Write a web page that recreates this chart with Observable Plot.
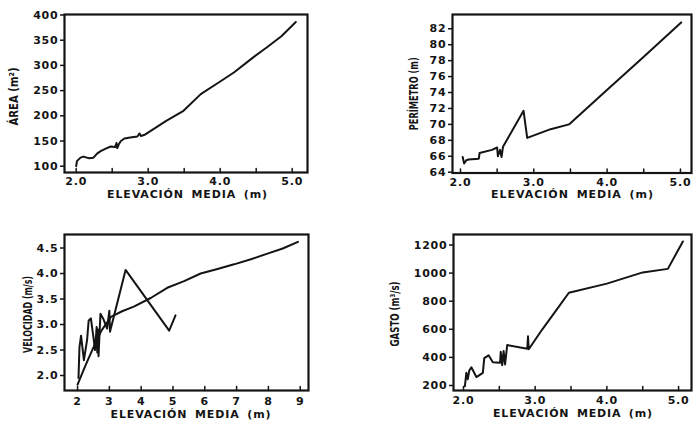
<!DOCTYPE html>
<html><head><meta charset="utf-8">
<script src="https://cdn.jsdelivr.net/npm/d3@7"></script>
<script src="https://cdn.jsdelivr.net/npm/@observablehq/plot@0.6"></script>
<style>
html,body{margin:0;padding:0;background:#fff;}
#wrap{position:relative;width:693px;height:421px;overflow:hidden;background:#fff;}
#wrap svg{position:absolute;}
</style></head><body><div id="wrap"></div>
<script>
// ---- data ----
const xLabel = "ELEVACIÓN MEDIA (m)";

const areaLabel = "ÁREA (m²)";
const areaX = [2.0, 2.01, 2.06, 2.1, 2.17, 2.24, 2.29, 2.34, 2.41, 2.48, 2.54, 2.56, 2.57, 2.59, 2.62, 2.67, 2.75, 2.85, 2.88, 2.9, 2.96, 3.25, 3.49, 3.73, 4.0, 4.19, 4.45, 4.65, 4.85, 5.05];
const areaY = [100, 110, 117, 119, 116, 117, 125, 130, 135, 139, 138, 146, 136, 143, 150, 155, 157, 159, 165, 160, 163, 190, 210, 243, 268, 286, 315, 336, 358, 386];
const areaTicks = [100, 150, 200, 250, 300, 350, 400];

const perLabel = "PERÍMETRO (m)";
const perX = [2.03, 2.05, 2.08, 2.11, 2.25, 2.26, 2.43, 2.50, 2.51, 2.54, 2.56, 2.58, 2.86, 2.91, 3.23, 3.48, 3.96, 4.5, 5.01];
const perY = [65.9, 65.1, 65.5, 65.6, 65.7, 66.4, 66.8, 67.1, 66.0, 66.8, 65.9, 67.2, 71.7, 68.3, 69.4, 70.0, 74.0, 78.5, 82.8];
const perTicks = [64, 66, 68, 70, 72, 74, 76, 78, 80, 82];

const velLabel = "VELOCIDAD (m/s)";
const velX1 = [2.0, 2.25, 2.5, 2.75, 3.05, 3.4, 3.77, 4.3, 4.82, 5.35, 5.87, 6.4, 6.92, 7.45, 7.97, 8.45, 8.93];
const velY1 = [1.82, 2.2, 2.55, 2.88, 3.15, 3.26, 3.35, 3.52, 3.72, 3.85, 4.0, 4.09, 4.18, 4.28, 4.39, 4.49, 4.62];
const velX2 = [2.03, 2.06, 2.11, 2.2, 2.3, 2.35, 2.42, 2.5, 2.55, 2.6, 2.62, 2.64, 2.66, 2.72, 2.81, 2.93, 3.0, 3.02, 3.51, 4.88, 5.08];
const velY2 = [1.95, 2.55, 2.78, 2.3, 2.7, 3.08, 3.12, 2.75, 2.5, 2.95, 2.45, 2.9, 2.38, 3.21, 3.11, 2.92, 3.27, 2.86, 4.07, 2.88, 3.18];
const velTicks = [2.0, 2.5, 3.0, 3.5, 4.0, 4.5];
const velXTicks = [2, 3, 4, 5, 6, 7, 8, 9];

const gastoLabel = "GASTO (m³/s)";
const gastoX = [2.02, 2.04, 2.06, 2.08, 2.11, 2.18, 2.27, 2.29, 2.35, 2.41, 2.51, 2.52, 2.54, 2.56, 2.58, 2.61, 2.89, 2.9, 2.91, 3.1, 3.3, 3.47, 4.0, 4.5, 4.85, 5.06];
const gastoY = [195, 290, 245, 305, 330, 260, 290, 395, 415, 366, 362, 440, 345, 445, 350, 488, 462, 550, 458, 600, 740, 860, 925, 1005, 1030, 1225];
const gastoTicks = [200, 400, 600, 800, 1000, 1200];

const elevTicks = [2, 3, 4, 5];
const elevMinor = [2, 2.5, 3, 3.5, 4, 4.5, 5];

// ---- layout ----
const INK = "#141414";
const FONT = "DejaVu Sans, Verdana, sans-serif";
const tickShape = {draw(ctx, l) { ctx.moveTo(0, 0); ctx.lineTo(0, -l); }};

const panels = [
  {left: 0, top: 0, width: 346, height: 210, mL: 64, mT: 14, mR: 39, mB: 38,
   xDomain: [1.8375, 5.2125], yDomain: [87.5, 401],
   xTicks: elevTicks, xFmt: d => d.toFixed(1), xMinor: elevMinor, xPad: 5,
   yTicks: areaTicks, yFmt: d => String(d),
   yLabel: areaLabel, yLen: 58, yDx: -51, yDy: 3, xDx: 1, xDy: 22, xLen: 160,
   series: [[areaX, areaY]]},
  {left: 346, top: 0, width: 347, height: 210, mL: 106, mT: 14, mR: 2, mB: 37.5,
   xDomain: [1.891, 5.151], yDomain: [63.9, 83.79],
   xTicks: elevTicks, xFmt: d => d.toFixed(1), xMinor: elevMinor, xPad: 5,
   yTicks: perTicks, yFmt: d => String(d),
   yLabel: perLabel, yLen: 73, yDx: -39, yDy: 0, xDx: 0, xDy: 21, xLen: 162,
   series: [[perX, perY]]},
  {left: 0, top: 210, width: 346, height: 211, mL: 64, mT: 24, mR: 38, mB: 31,
   xDomain: [1.59, 9.26], yDomain: [1.706, 4.765],
   xTicks: velXTicks, xFmt: d => String(d), xMinor: velXTicks, xPad: 7,
   yTicks: velTicks, yFmt: d => d.toFixed(1),
   yLabel: velLabel, yLen: 77, yDx: -37, yDy: 2, xDx: 4, xDy: 24, xLen: 160,
   series: [[velX1, velY1], [velX2, velY2]]},
  {left: 346, top: 210, width: 347, height: 211, mL: 107, mT: 24, mR: 2, mB: 31,
   xDomain: [1.861, 5.18], yDomain: [164.4, 1274.7],
   xTicks: elevTicks, xFmt: d => d.toFixed(1), xMinor: elevMinor, xPad: 6,
   yTicks: gastoTicks, yFmt: d => String(d),
   yLabel: gastoLabel, yLen: 65, yDx: -59, yDy: 1.5, xDx: 0, xDy: 23, xLen: 159,
   series: [[gastoX, gastoY]]}
];

const wrap = document.getElementById("wrap");
for (const p of panels) {
  const lines = p.series.map(([xs, ys]) =>
    Plot.line(xs.map((x, i) => ({x, y: ys[i]})), {x: "x", y: "y", stroke: INK, strokeWidth: 2, strokeLinejoin: "round"}));
  const svg = Plot.plot({
    width: p.width, height: p.height,
    marginLeft: p.mL, marginTop: p.mT, marginRight: p.mR, marginBottom: p.mB,
    x: {domain: p.xDomain},
    y: {domain: p.yDomain},
    style: {fontFamily: FONT, fontWeight: "bold", fontSize: "11px", color: INK, background: "transparent"},
    marks: [
      Plot.axisY(p.yTicks, {tickSize: 4, tickPadding: 2, tickFormat: p.yFmt, label: null, stroke: INK, strokeWidth: 1.5, fill: INK, fontSize: 11}),
      Plot.axisX(p.xTicks, {tickSize: 0, tickPadding: p.xPad, tickFormat: p.xFmt, label: null, fill: INK, fontSize: 11}),
      Plot.vector(p.xMinor, {x: d => d, frameAnchor: "bottom", length: 4, anchor: "start", shape: tickShape, stroke: INK, strokeWidth: 1.5}),
      ...lines,
      Plot.frame({stroke: INK, strokeWidth: 2.2}),
      Plot.text([xLabel], {frameAnchor: "bottom", dx: p.xDx, dy: p.xDy, lineAnchor: "middle", textAnchor: "middle", fontSize: 11, fontWeight: "bold", fill: INK}),
      Plot.text([p.yLabel], {frameAnchor: "left", dx: p.yDx, dy: p.yDy, rotate: -90, lineAnchor: "middle", textAnchor: "middle", fontSize: 13, fontWeight: "bold", fill: INK})
    ]
  });
  svg.style.left = p.left + "px";
  svg.style.top = p.top + "px";
  const sel = d3.select(svg);
  sel.selectAll('g[aria-label="y-axis tick label"] text, g[aria-label="x-axis tick label"] text').style("letter-spacing", "0.8px");
  const texts = sel.selectAll('g[aria-label="text"] text');
  texts.filter(function() { return this.textContent === xLabel; })
    .attr("textLength", p.xLen).attr("lengthAdjust", "spacing").style("word-spacing", "3px");
  texts.filter(function() { return this.textContent !== xLabel; })
    .attr("textLength", p.yLen).attr("lengthAdjust", "spacingAndGlyphs");
  wrap.appendChild(svg);
}
</script></body></html>
